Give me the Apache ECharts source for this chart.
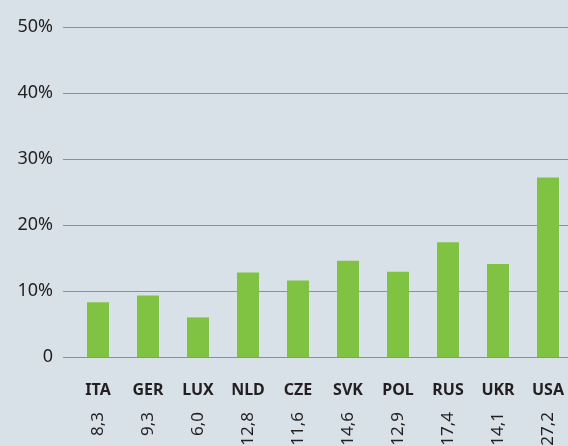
<!DOCTYPE html>
<html>
<head>
<meta charset="utf-8">
<script src="https://cdn.jsdelivr.net/npm/echarts@6/dist/echarts.min.js"></script>
<style>
html,body{margin:0;padding:0;background:#d9e1e8;overflow:hidden;}
#myChart{width:573px;height:446px;}
</style>
</head>
<body>
<div id="myChart"></div>
<script>
// data
var countries = ['ITA','GER','LUX','NLD','CZE','SVK','POL','RUS','UKR','USA'];
var shares = [8.3, 9.3, 6.0, 12.8, 11.6, 14.6, 12.9, 17.4, 14.1, 27.2];
var shareLabels = ['8,3','9,3','6,0','12,8','11,6','14,6','12,9','17,4','14,1','27,2'];
var yTicks = [0, 10, 20, 30, 40, 50];

var txt = '#231f20';
var font = 'Noto Sans';

var option = {
	backgroundColor: '#d9e1e8',
	animation: false,
	grid: [
		{left: 63, right: 5, top: 27, bottom: 89, outerBoundsMode: 'none'},
		{left: 73, right: 0, top: 27, bottom: 89, outerBoundsMode: 'none'}
	],
	xAxis: [
		{gridIndex: 0, type: 'category', data: countries, show: false},
		{
			gridIndex: 1, type: 'category', data: countries,
			axisLine: {show: false}, axisTick: {show: false},
			axisLabel: {margin: 25, color: txt, fontFamily: font, fontWeight: 'bold', fontSize: 16, interval: 0}
		},
		{
			gridIndex: 1, type: 'category', data: shareLabels, position: 'bottom',
			axisLine: {show: false}, axisTick: {show: false},
			axisLabel: {margin: 55, rotate: 90, color: txt, fontFamily: font, fontSize: 17, interval: 0}
		}
	],
	yAxis: [
		{
			gridIndex: 0, type: 'value', min: yTicks[0], max: yTicks[yTicks.length - 1], interval: 10,
			axisLine: {show: false}, axisTick: {show: false},
			axisLabel: {
				margin: 10, color: txt, fontFamily: font, fontSize: 18,
				formatter: function (v) { return v === 0 ? '0' : v + '%'; }
			},
			splitLine: {lineStyle: {color: '#8a9098', width: 1}}
		},
		{gridIndex: 1, type: 'value', min: yTicks[0], max: yTicks[yTicks.length - 1], show: false}
	],
	series: [{
		type: 'bar',
		xAxisIndex: 1,
		yAxisIndex: 1,
		data: shares,
		barWidth: 22,
		itemStyle: {color: '#80c342'}
	}]
};
echarts.init(document.getElementById('myChart')).setOption(option);
</script>
</body>
</html>
